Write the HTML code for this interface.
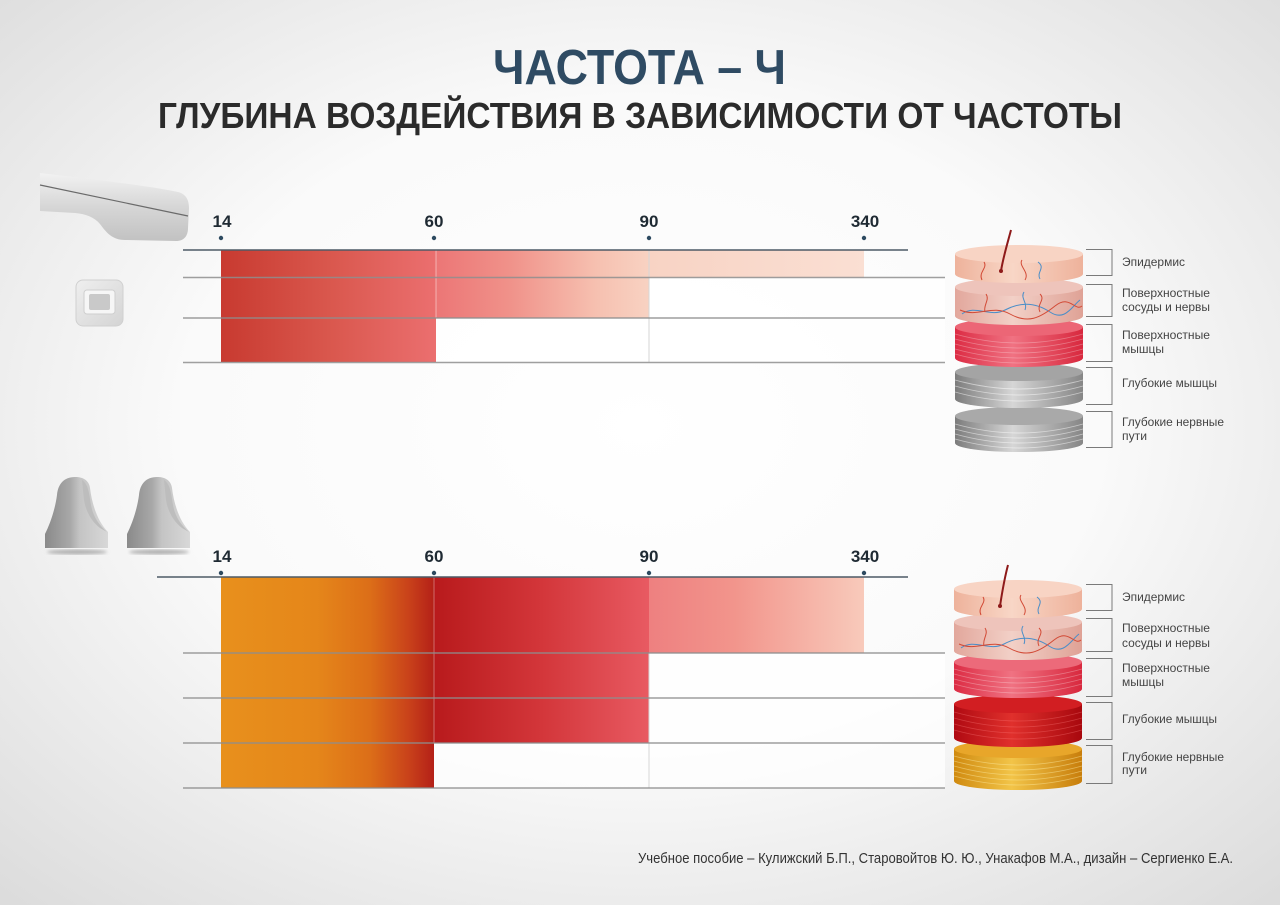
<!DOCTYPE html>
<html><head><meta charset="utf-8"><style>
html,body{margin:0;padding:0;width:1280px;height:905px;overflow:hidden;background:#f4f4f4}
svg{display:block}
text{font-family:"Liberation Sans","DejaVu Sans",sans-serif}
</style></head><body>
<svg width="1280" height="905" viewBox="0 0 1280 905" xmlns="http://www.w3.org/2000/svg">
<defs>
 <radialGradient id="bg" cx="0.5" cy="0.47" r="0.72">
  <stop offset="0" stop-color="#ffffff"/><stop offset="0.5" stop-color="#fafafa"/><stop offset="1" stop-color="#dcdcdc"/>
 </radialGradient>
 <linearGradient id="gAt"><stop offset="0" stop-color="#c83a30"/><stop offset="0.5" stop-color="#d9574d"/><stop offset="1" stop-color="#eb6f6f"/></linearGradient>
 <linearGradient id="gBt"><stop offset="0" stop-color="#ec7676"/><stop offset="0.35" stop-color="#f0928a"/><stop offset="0.75" stop-color="#f6c0b0"/><stop offset="1" stop-color="#f8d2c2"/></linearGradient>
 <linearGradient id="gCt"><stop offset="0" stop-color="#f8d3c4"/><stop offset="1" stop-color="#fadfd3"/></linearGradient>
 <linearGradient id="gAb"><stop offset="0" stop-color="#e8901c"/><stop offset="0.45" stop-color="#e5861a"/><stop offset="0.7" stop-color="#dc6e18"/><stop offset="0.88" stop-color="#c9421a"/><stop offset="1" stop-color="#b42018"/></linearGradient>
 <linearGradient id="gBb"><stop offset="0" stop-color="#b81a1c"/><stop offset="0.5" stop-color="#d3363a"/><stop offset="1" stop-color="#e85a62"/></linearGradient>
 <linearGradient id="gCb"><stop offset="0" stop-color="#ee8080"/><stop offset="0.4" stop-color="#f2958c"/><stop offset="1" stop-color="#f8cabb"/></linearGradient>
 <linearGradient id="hp" x1="0" y1="0" x2="0" y2="1"><stop offset="0" stop-color="#f2f2f2"/><stop offset="0.5" stop-color="#d6d6d6"/><stop offset="1" stop-color="#c2c2c2"/></linearGradient>
 <linearGradient id="pad" x1="0" y1="0" x2="1" y2="1"><stop offset="0" stop-color="#efefef"/><stop offset="1" stop-color="#d4d4d4"/></linearGradient>
 <linearGradient id="el"><stop offset="0" stop-color="#8a8a8a"/><stop offset="0.4" stop-color="#a8a8a8"/><stop offset="0.55" stop-color="#c4c4c4"/><stop offset="1" stop-color="#d8d8d8"/></linearGradient>
 <linearGradient id="sEp"><stop offset="0" stop-color="#eeb29b"/><stop offset="0.45" stop-color="#f8d6c6"/><stop offset="1" stop-color="#eeb29b"/></linearGradient>
 <linearGradient id="sVe"><stop offset="0" stop-color="#e2a79c"/><stop offset="0.45" stop-color="#f2d0c7"/><stop offset="1" stop-color="#dfa296"/></linearGradient>
 <linearGradient id="sMu"><stop offset="0" stop-color="#dc2c44"/><stop offset="0.45" stop-color="#f07282"/><stop offset="1" stop-color="#d8283e"/></linearGradient>
 <linearGradient id="sGr"><stop offset="0" stop-color="#7c7c7c"/><stop offset="0.45" stop-color="#d6d6d6"/><stop offset="1" stop-color="#868686"/></linearGradient>
 <linearGradient id="sDm"><stop offset="0" stop-color="#b00a12"/><stop offset="0.45" stop-color="#e0302c"/><stop offset="1" stop-color="#a8080e"/></linearGradient>
 <linearGradient id="sNv"><stop offset="0" stop-color="#d08a10"/><stop offset="0.45" stop-color="#f2c448"/><stop offset="1" stop-color="#c87e0c"/></linearGradient>
 <filter id="blur"><feGaussianBlur stdDeviation="1.5"/></filter>
</defs>

<rect width="1280" height="905" fill="url(#bg)"/>

<!-- Titles -->
<text x="493" y="84" font-size="49" font-weight="bold" fill="#2f4b63" textLength="293" lengthAdjust="spacingAndGlyphs">ЧАСТОТА – Ч</text>
<text x="158" y="128" font-size="36" font-weight="bold" fill="#2b2b2b" textLength="964" lengthAdjust="spacingAndGlyphs">ГЛУБИНА ВОЗДЕЙСТВИЯ В ЗАВИСИМОСТИ ОТ ЧАСТОТЫ</text>

<!-- Devices top -->
<path d="M40,173 C90,179 150,186 178,192 C186,194 189,200 189,208 L188,228 C188,236 184,241 176,241 L125,240 C112,240 106,232 100,224 C94,217 86,214 75,213 L40,211 Z" fill="url(#hp)"/>
<path d="M40,185 L188,216" stroke="#6a6a6a" stroke-width="1.2"/>
<rect x="76" y="280" width="47" height="46" rx="7" fill="url(#pad)" stroke="#d0d0d0"/>
<rect x="84" y="290" width="31" height="24" rx="3" fill="#f6f6f6" stroke="#cfcfcf"/>
<rect x="89" y="294" width="21" height="16" rx="2" fill="#c9c9c9"/>

<!-- Devices bottom -->
<ellipse cx="77" cy="552" rx="30" ry="2.5" fill="#b0b0b0" filter="url(#blur)"/>
<ellipse cx="159" cy="552" rx="30" ry="2.5" fill="#b0b0b0" filter="url(#blur)"/>
<path d="M45,548 L45,534 C50,524 55,510 57,495 C58,484 64,477 75,477 C84,477 89,481 90,488 C92,505 98,522 108,532 L108,548 Z" fill="url(#el)"/>
<path d="M82,480 C88,484 89,492 91,505 C93,516 98,524 107,532 L100,528 C92,522 86,512 84,500 Z" fill="#bdbdbd"/>
<path d="M127,548 L127,534 C132,524 137,510 139,495 C140,484 146,477 157,477 C166,477 171,481 172,488 C174,505 180,522 190,532 L190,548 Z" fill="url(#el)"/>
<path d="M164,480 C170,484 171,492 173,505 C175,516 180,524 189,532 L182,528 C174,522 168,512 166,500 Z" fill="#bdbdbd"/>

<!-- TOP CHART -->
<rect x="221" y="250" width="215" height="112" fill="url(#gAt)"/>
<rect x="436" y="250" width="213" height="68" fill="url(#gBt)"/>
<rect x="649" y="250" width="215" height="27.5" fill="url(#gCt)"/>
<rect x="649" y="278" width="296" height="40" fill="#ffffff" opacity="0.7"/>
<rect x="436" y="318" width="509" height="44" fill="#ffffff" opacity="0.7"/>
<line x1="436" y1="250" x2="436" y2="318" stroke="#ffffff" stroke-opacity="0.45" stroke-width="1"/>
<line x1="649" y1="250" x2="649" y2="362" stroke="#d6d6d6" stroke-width="1"/>
<g stroke="#8e8e8e" stroke-width="1.5" stroke-opacity="0.85">
 <line x1="183" y1="277.5" x2="945" y2="277.5"/>
 <line x1="183" y1="318" x2="945" y2="318"/>
 <line x1="183" y1="362.5" x2="945" y2="362.5"/>
</g>
<line x1="183" y1="250" x2="908" y2="250" stroke="#4d5a66" stroke-width="1.6"/>
<g fill="#2d4a60"><circle cx="221" cy="238" r="2.2"/><circle cx="434" cy="238" r="2.2"/><circle cx="649" cy="238" r="2.2"/><circle cx="864" cy="238" r="2.2"/></g>
<g font-size="17" font-weight="bold" fill="#1f2a33" text-anchor="middle">
 <text x="222" y="227">14</text><text x="434" y="227">60</text><text x="649" y="227">90</text><text x="865" y="227">340</text>
</g>

<!-- BOTTOM CHART -->
<rect x="221" y="577" width="213" height="211" fill="url(#gAb)"/>
<rect x="434" y="577" width="215" height="166" fill="url(#gBb)"/>
<rect x="649" y="577" width="215" height="76" fill="url(#gCb)"/>
<rect x="649" y="653" width="296" height="90" fill="#ffffff" opacity="0.7"/>
<rect x="434" y="743" width="511" height="45" fill="#ffffff" opacity="0.7"/>
<line x1="434" y1="577" x2="434" y2="743" stroke="#ffffff" stroke-opacity="0.35" stroke-width="1"/>
<line x1="649" y1="653" x2="649" y2="788" stroke="#d6d6d6" stroke-width="1"/>
<g stroke="#8e8e8e" stroke-width="1.5" stroke-opacity="0.85">
 <line x1="183" y1="653" x2="945" y2="653"/>
 <line x1="183" y1="698" x2="945" y2="698"/>
 <line x1="183" y1="743" x2="945" y2="743"/>
 <line x1="183" y1="788" x2="945" y2="788"/>
</g>
<line x1="157" y1="577" x2="908" y2="577" stroke="#4d5a66" stroke-width="1.6"/>
<g fill="#2d4a60"><circle cx="221" cy="573" r="2.2"/><circle cx="434" cy="573" r="2.2"/><circle cx="649" cy="573" r="2.2"/><circle cx="864" cy="573" r="2.2"/></g>
<g font-size="17" font-weight="bold" fill="#1f2a33" text-anchor="middle">
 <text x="222" y="562">14</text><text x="434" y="562">60</text><text x="649" y="562">90</text><text x="865" y="562">340</text>
</g>

<!-- TOP DISK STACK -->
<g>
 <path d="M955,416 L955,443 A64,9 0 0 0 1083,443 L1083,416 Z" fill="url(#sGr)"/>
 <ellipse cx="1019" cy="416" rx="64" ry="9" fill="#a9a9a9"/>
 <g stroke="#ffffff" stroke-opacity="0.5" stroke-width="0.9" fill="none">
  <path d="M955,424 Q1019,442 1083,424"/><path d="M955,429 Q1019,447 1083,429"/><path d="M955,434 Q1019,452 1083,434"/><path d="M955,439 Q1019,457 1083,439"/>
 </g>
 <path d="M955,372 L955,399 A64,9 0 0 0 1083,399 L1083,372 Z" fill="url(#sGr)"/>
 <ellipse cx="1019" cy="372" rx="64" ry="9" fill="#a4a4a4"/>
 <g stroke="#ffffff" stroke-opacity="0.5" stroke-width="0.9" fill="none">
  <path d="M955,380 Q1019,398 1083,380"/><path d="M955,386 Q1019,404 1083,386"/><path d="M955,392 Q1019,410 1083,392"/>
 </g>
 <path d="M955,327 L955,358 A64,9 0 0 0 1083,358 L1083,327 Z" fill="url(#sMu)"/>
 <ellipse cx="1019" cy="327" rx="64" ry="9" fill="#ec6676"/>
 <g stroke="#ffffff" stroke-opacity="0.3" stroke-width="0.8" fill="none">
  <path d="M955,334 Q1019,352 1083,334"/><path d="M955,339 Q1019,357 1083,339"/><path d="M955,344 Q1019,362 1083,344"/><path d="M955,349 Q1019,367 1083,349"/><path d="M955,354 Q1019,372 1083,354"/>
 </g>
 <path d="M955,287 L955,316 A64,9 0 0 0 1083,316 L1083,287 Z" fill="url(#sVe)"/>
 <ellipse cx="1019" cy="287" rx="64" ry="9" fill="#eec4bb"/>
 <g fill="none" stroke-width="1">
  <path d="M962,314 C975,304 990,318 1005,310 S1035,302 1050,312 S1072,306 1080,300" stroke="#4a8ec8"/>
  <path d="M960,310 C978,318 992,304 1010,314 S1040,318 1055,306 S1075,312 1082,306" stroke="#d24a36"/>
  <path d="M985,312 C983,305 990,300 986,294" stroke="#d24a36"/>
  <path d="M1025,310 C1028,303 1020,298 1024,292" stroke="#4a8ec8"/>
  <path d="M1040,312 C1036,304 1046,300 1040,294" stroke="#d24a36"/>
 </g>
 <path d="M955,254 L955,274 A64,9 0 0 0 1083,274 L1083,254 Z" fill="url(#sEp)"/>
 <ellipse cx="1019" cy="254" rx="64" ry="9" fill="#f8d4c4"/>
 <g fill="none" stroke-width="1">
  <path d="M982,280 C978,272 988,268 984,262" stroke="#d24a36"/>
  <path d="M1025,280 C1030,272 1018,266 1022,260" stroke="#d24a36"/>
  <path d="M1040,279 C1036,272 1046,268 1038,262" stroke="#4a8ec8"/>
 </g>
 <path d="M1011,230 C1007,245 1003,258 1001,271" stroke="#8e1a1a" stroke-width="2" fill="none"/>
 <circle cx="1001" cy="271" r="2" fill="#8e1a1a"/>
</g>

<!-- BOTTOM DISK STACK -->
<g>
 <path d="M954,749 L954,781 A64,9 0 0 0 1082,781 L1082,749 Z" fill="url(#sNv)"/>
 <ellipse cx="1018" cy="749" rx="64" ry="9" fill="#e8a62a"/>
 <g stroke="#fff2b0" stroke-opacity="0.45" stroke-width="0.8" fill="none">
  <path d="M954,756 Q1018,774 1082,756"/><path d="M954,761 Q1018,779 1082,761"/><path d="M954,766 Q1018,784 1082,766"/><path d="M954,771 Q1018,789 1082,771"/><path d="M954,776 Q1018,794 1082,776"/>
 </g>
 <path d="M954,704 L954,738 A64,9 0 0 0 1082,738 L1082,704 Z" fill="url(#sDm)"/>
 <ellipse cx="1018" cy="704" rx="64" ry="9" fill="#d21e22"/>
 <g stroke="#ff8080" stroke-opacity="0.35" stroke-width="0.8" fill="none">
  <path d="M954,712 Q1018,730 1082,712"/><path d="M954,718 Q1018,736 1082,718"/><path d="M954,724 Q1018,742 1082,724"/><path d="M954,730 Q1018,748 1082,730"/>
 </g>
 <path d="M954,662 L954,689 A64,9 0 0 0 1082,689 L1082,662 Z" fill="url(#sMu)"/>
 <ellipse cx="1018" cy="662" rx="64" ry="9" fill="#ec6a7a"/>
 <g stroke="#ffffff" stroke-opacity="0.3" stroke-width="0.8" fill="none">
  <path d="M954,669 Q1018,687 1082,669"/><path d="M954,674 Q1018,692 1082,674"/><path d="M954,679 Q1018,697 1082,679"/><path d="M954,684 Q1018,702 1082,684"/>
 </g>
 <path d="M954,622 L954,651 A64,9 0 0 0 1082,651 L1082,622 Z" fill="url(#sVe)"/>
 <ellipse cx="1018" cy="622" rx="64" ry="9" fill="#eec4bb"/>
 <g fill="none" stroke-width="1">
  <path d="M961,648 C974,638 989,652 1004,644 S1034,636 1049,646 S1071,640 1079,634" stroke="#4a8ec8"/>
  <path d="M959,644 C977,652 991,638 1009,648 S1039,652 1054,640 S1074,646 1081,640" stroke="#d24a36"/>
  <path d="M984,646 C982,639 989,634 985,628" stroke="#d24a36"/>
  <path d="M1024,644 C1027,637 1019,632 1023,626" stroke="#4a8ec8"/>
  <path d="M1039,646 C1035,638 1045,634 1039,628" stroke="#d24a36"/>
 </g>
 <path d="M954,589 L954,609 A64,9 0 0 0 1082,609 L1082,589 Z" fill="url(#sEp)"/>
 <ellipse cx="1018" cy="589" rx="64" ry="9" fill="#f8d4c4"/>
 <g fill="none" stroke-width="1">
  <path d="M981,615 C977,607 987,603 983,597" stroke="#d24a36"/>
  <path d="M1024,615 C1029,607 1017,601 1021,595" stroke="#d24a36"/>
  <path d="M1039,614 C1035,607 1045,603 1037,597" stroke="#4a8ec8"/>
 </g>
 <path d="M1008,565 C1004,580 1002,593 1000,606" stroke="#8e1a1a" stroke-width="2" fill="none"/>
 <circle cx="1000" cy="606" r="2" fill="#8e1a1a"/>
</g>

<!-- Brackets top -->
<g stroke="#7a7a7a" stroke-width="1" fill="none">
 <path d="M1086,249.5 H1112 V275.5 H1086"/>
 <path d="M1086,284.5 H1112 V316.5 H1086"/>
 <path d="M1086,324.5 H1112 V361.5 H1086"/>
 <path d="M1086,367.5 H1112 V404.5 H1086"/>
 <path d="M1086,411.5 H1112 V447.5 H1086"/>
</g>
<g font-size="12" fill="#444">
 <text x="1122" y="266" textLength="63" lengthAdjust="spacingAndGlyphs">Эпидермис</text>
 <text x="1122" y="297" textLength="88" lengthAdjust="spacingAndGlyphs">Поверхностные</text>
 <text x="1122" y="311" textLength="88" lengthAdjust="spacingAndGlyphs">сосуды и нервы</text>
 <text x="1122" y="339" textLength="88" lengthAdjust="spacingAndGlyphs">Поверхностные</text>
 <text x="1122" y="353" textLength="42" lengthAdjust="spacingAndGlyphs">мышцы</text>
 <text x="1122" y="387" textLength="95" lengthAdjust="spacingAndGlyphs">Глубокие мышцы</text>
 <text x="1122" y="426" textLength="102" lengthAdjust="spacingAndGlyphs">Глубокие нервные</text>
 <text x="1122" y="440" textLength="25" lengthAdjust="spacingAndGlyphs">пути</text>
</g>

<!-- Brackets bottom -->
<g stroke="#7a7a7a" stroke-width="1" fill="none">
 <path d="M1086,584.5 H1112 V610.5 H1086"/>
 <path d="M1086,618.5 H1112 V651.5 H1086"/>
 <path d="M1086,658.5 H1112 V696.5 H1086"/>
 <path d="M1086,702.5 H1112 V739.5 H1086"/>
 <path d="M1086,745.5 H1112 V783.5 H1086"/>
</g>
<g font-size="12" fill="#444">
 <text x="1122" y="601" textLength="63" lengthAdjust="spacingAndGlyphs">Эпидермис</text>
 <text x="1122" y="632" textLength="88" lengthAdjust="spacingAndGlyphs">Поверхностные</text>
 <text x="1122" y="647" textLength="88" lengthAdjust="spacingAndGlyphs">сосуды и нервы</text>
 <text x="1122" y="672" textLength="88" lengthAdjust="spacingAndGlyphs">Поверхностные</text>
 <text x="1122" y="686" textLength="42" lengthAdjust="spacingAndGlyphs">мышцы</text>
 <text x="1122" y="723" textLength="95" lengthAdjust="spacingAndGlyphs">Глубокие мышцы</text>
 <text x="1122" y="761" textLength="102" lengthAdjust="spacingAndGlyphs">Глубокие нервные</text>
 <text x="1122" y="774" textLength="25" lengthAdjust="spacingAndGlyphs">пути</text>
</g>

<!-- Footer -->
<text x="638" y="863" font-size="15" fill="#333" textLength="595" lengthAdjust="spacingAndGlyphs">Учебное пособие –  Кулижский Б.П., Старовойтов Ю. Ю., Унакафов М.А., дизайн – Сергиенко Е.А.</text>
</svg>
</body></html>
